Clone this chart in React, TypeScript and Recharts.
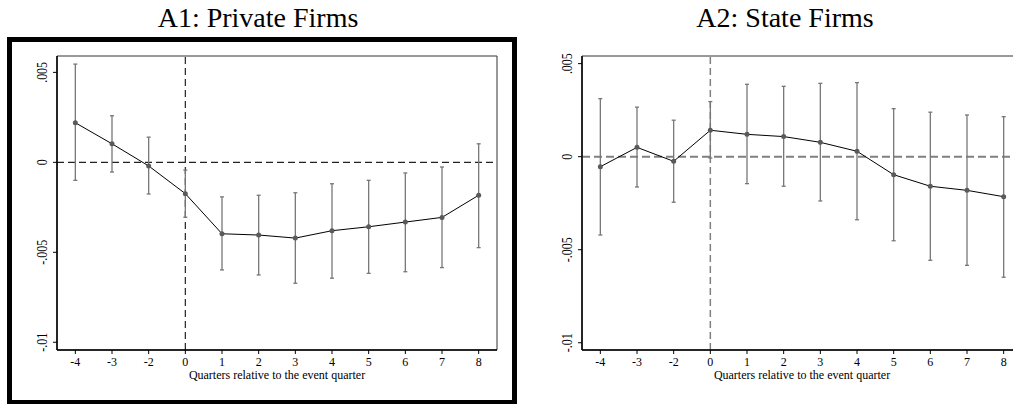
import React from "react";
import {
  ComposedChart,
  Line,
  XAxis,
  YAxis,
  ErrorBar,
  ReferenceLine,
  ReferenceArea,
} from "recharts";

const quarters = ["-4", "-3", "-2", "0", "1", "2", "3", "4", "5", "6", "7", "8"];
const yTicks = [-0.01, -0.005, 0, 0.005];
const yTickLabels = ["-.01", "-.005", "0", ".005"];

// A1: private firms
const privateEst = [0.0022, 0.00103, -0.0002, -0.00174, -0.00397, -0.00404, -0.00421, -0.0038, -0.00358, -0.00332, -0.00306, -0.00183];
const privateHi = [0.00546, 0.00259, 0.0014, -0.00043, -0.00192, -0.00183, -0.00169, -0.00119, -0.001, -0.00059, -0.00026, 0.00103];
const privateLo = [-0.001, -0.00054, -0.00176, -0.00305, -0.00598, -0.00626, -0.00672, -0.00644, -0.00617, -0.00608, -0.00585, -0.00474];

// A2: state firms
const stateEst = [-0.00054, 0.0005, -0.00025, 0.00142, 0.0012, 0.00108, 0.00077, 0.00029, -0.00097, -0.00159, -0.00181, -0.00215];
const stateHi = [0.00312, 0.00266, 0.00196, 0.00296, 0.00389, 0.00378, 0.00394, 0.00398, 0.00258, 0.00239, 0.00224, 0.00215];
const stateLo = [-0.00421, -0.00163, -0.00245, -0.00007, -0.00145, -0.00159, -0.00238, -0.00339, -0.00452, -0.00557, -0.00584, -0.00648];

const SERIF = "Liberation Serif, Times New Roman, serif";

const buildRows = (est: number[], lo: number[], hi: number[]) =>
  est.map((v, i) => ({ idx: i, est: v, err: [v - lo[i], hi[i] - v] }));

const YTick = (props: any) => {
  const { x, y, payload } = props;
  const i = yTicks.indexOf(payload.value);
  return (
    <text
      transform={`translate(${x - 6},${y}) rotate(-90) scale(1,1.3)`}
      textAnchor="middle"
      fontSize={12}
      fontFamily={SERIF}
      fill="#000"
    >
      {i >= 0 ? yTickLabels[i] : payload.value}
    </text>
  );
};

type PanelProps = {
  est: number[];
  lo: number[];
  hi: number[];
  yDomain: [number, number];
  dark: boolean;
};

function Panel({ est, lo, hi, yDomain, dark }: PanelProps) {
  const data = buildRows(est, lo, hi);
  const refColor = dark ? "#222" : "#808080";
  return (
    <ComposedChart
      width={520}
      height={404}
      data={data}
      margin={{ top: 56, right: 23, bottom: 0, left: 0 }}
    >
      <ReferenceArea
        x1={-0.5}
        x2={11.5}
        y1={yDomain[0]}
        y2={yDomain[1]}
        fill="none"
        stroke="#333"
        strokeWidth={1}
        ifOverflow="visible"
      />
      <XAxis
        dataKey="idx"
        type="number"
        domain={[-0.5, 11.5]}
        ticks={quarters.map((_, i) => i)}
        tickFormatter={(i: number) => quarters[i]}
        interval={0}
        height={54}
        tickSize={4}
        tickMargin={3}
        axisLine={{ stroke: "#000", strokeWidth: 1.5 }}
        tickLine={{ stroke: "#000" }}
        tick={{ fontSize: 12, fontFamily: SERIF, fill: "#000" }}
      />
      <YAxis
        type="number"
        domain={yDomain}
        ticks={yTicks}
        allowDataOverflow
        width={57}
        tickSize={4}
        tickMargin={0}
        axisLine={{ stroke: "#000", strokeWidth: 1.5 }}
        tickLine={{ stroke: "#000" }}
        tick={<YTick />}
      />
      <ReferenceLine
        y={0}
        stroke={refColor}
        strokeWidth={dark ? 1.2 : 2}
        strokeDasharray={dark ? "7 4" : "8 4"}
      />
      <ReferenceLine
        x={3}
        stroke={refColor}
        strokeWidth={dark ? 1.2 : 1.5}
        strokeDasharray="7 4"
      />
      <Line
        dataKey="est"
        type="linear"
        stroke="#000"
        strokeWidth={1}
        dot={{ r: 2.5, fill: "#5a5a5a", stroke: "none" }}
        isAnimationActive={false}
      >
        <ErrorBar
          dataKey="err"
          direction="y"
          width={2}
          stroke="#777"
          strokeWidth={1.3}
        />
      </Line>
    </ComposedChart>
  );
}

const titleStyle: React.CSSProperties = {
  position: "absolute",
  top: 4,
  fontFamily: SERIF,
  fontSize: 28,
  lineHeight: "28px",
  textAlign: "center",
  whiteSpace: "nowrap",
  color: "#000",
};

const xLabelStyle: React.CSSProperties = {
  position: "absolute",
  top: 369,
  fontFamily: SERIF,
  fontSize: 12,
  lineHeight: "12px",
  textAlign: "center",
  whiteSpace: "nowrap",
  color: "#000",
};

export default function App() {
  return (
    <div
      style={{
        position: "absolute",
        left: 0,
        top: 0,
        width: 1013,
        height: 404,
        overflow: "hidden",
        background: "#fff",
      }}
    >
      <div style={{ ...titleStyle, left: 3, width: 510 }}>A1: Private Firms</div>
      <div style={{ ...titleStyle, left: 525, width: 520 }}>A2: State Firms</div>
      <div style={{ position: "absolute", left: 0, top: 0 }}>
        <Panel
          est={privateEst}
          lo={privateLo}
          hi={privateHi}
          yDomain={[-0.01043, 0.00591]}
          dark
        />
      </div>
      <div style={{ position: "absolute", left: 525, top: 0 }}>
        <Panel
          est={stateEst}
          lo={stateLo}
          hi={stateHi}
          yDomain={[-0.01039, 0.00541]}
          dark={false}
        />
      </div>
      <div style={{ ...xLabelStyle, left: 57, width: 440 }}>
        Quarters relative to the event quarter
      </div>
      <div style={{ ...xLabelStyle, left: 582, width: 440 }}>
        Quarters relative to the event quarter
      </div>
      <div
        style={{
          position: "absolute",
          left: 7,
          top: 37,
          width: 510,
          height: 368,
          border: "5px solid #000",
          boxSizing: "border-box",
        }}
      />
    </div>
  );
}
